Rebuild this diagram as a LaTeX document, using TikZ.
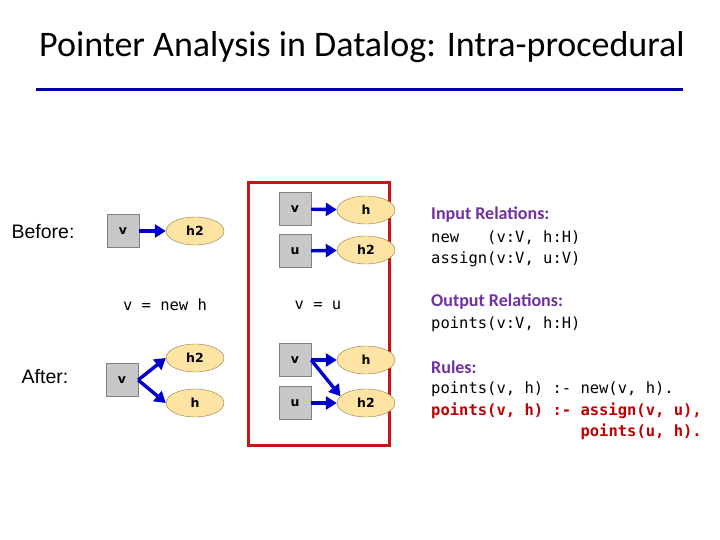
\documentclass[tikz,border=0pt]{standalone}
\usepackage{fontspec}
\setmainfont{Carlito}
\setsansfont{DejaVu Sans}
\setmonofont{DejaVu Sans Mono}
\newfontfamily\sidefont{Liberation Sans}
\usetikzlibrary{arrows.meta,shapes.geometric}
\definecolor{ptBlue}{RGB}{0,0,204}
\definecolor{ptRule}{RGB}{0,0,170}
\definecolor{ptRed}{RGB}{204,20,20}
\definecolor{ptPurple}{RGB}{112,48,160}
\definecolor{ptDarkRed}{RGB}{192,0,0}
\definecolor{varGray}{RGB}{200,200,200}
\definecolor{varEdge}{RGB}{128,128,128}
\definecolor{heapFill}{RGB}{253,228,163}
\definecolor{heapEdge}{RGB}{140,120,70}

\begin{document}
\begin{tikzpicture}[x=1pt,y=-1pt,
  var/.style={draw=varEdge, fill=varGray, minimum width=32pt, minimum height=33pt, inner sep=0pt, font=\sffamily\bfseries\fontsize{12.5}{14}\selectfont},
  heap/.style={ellipse, draw=heapEdge, fill=heapFill, minimum width=58pt, minimum height=28pt, inner sep=0pt, font=\sffamily\bfseries\fontsize{12.5}{14}\selectfont},
  ptsto/.style={ptBlue, line width=3.4pt, -{Triangle[length=11pt,width=13pt]}},
  code/.style={anchor=base west, inner sep=0pt, font=\ttfamily\fontsize{15.5}{20}\selectfont},
  head/.style={anchor=base west, inner sep=0pt, text=ptPurple, font=\bfseries\fontsize{18}{22}\selectfont},
  side/.style={font=\sidefont\fontsize{19.5}{22}\selectfont}]
\useasboundingbox (0,0) rectangle (720,540);
% title and rule
\node[font=\fontsize{36}{40}\selectfont] (title) at (362,47) {Pointer Analysis in Datalog: Intra-procedural};
\draw[ptRule, line width=3pt] (36,90) -- (683,90);
% new h
\node[side] (before) at (43,232) {Before:};
\node[side] (after) at (45,377) {After:};
\node[var] (bv) at (123,231) {v};
\node[heap] (bh2) at (195,231) {h2};
\draw[ptsto] (bv) -- (bh2);
\node[code, anchor=center] (stnew) at (165,305) {v = new h};
\node[var] (av) at (122,380) {v};
\node[heap] (ah2) at (195,358) {h2};
\node[heap] (ah) at (195,403) {h};
\draw[ptsto] (av.east) -- (ah2.west);
\draw[ptsto] (av.east) -- (ah.west);
% v = u
\draw[ptRed, line width=3pt] (248,183) rectangle (389,445);
\node[var] (tv) at (295,209) {v};
\node[heap] (th) at (366,210) {h};
\node[var] (tu) at (295,251) {u};
\node[heap] (th2) at (366,250) {h2};
\draw[ptsto] (tv) -- (th);
\draw[ptsto] (tu) -- (th2);
\node[code, anchor=center] (stcopy) at (318,305) {v = u};
\node[var] (lv) at (295,360) {v};
\node[heap] (lh) at (366,360) {h};
\node[var] (lu) at (295,403) {u};
\node[heap] (lh2) at (366,403) {h2};
\draw[ptsto] (lv) -- (lh);
\draw[ptsto] (lu) -- (lh2);
\draw[ptsto] (lv.east) -- (lh2.165);
% relations and rules
\node[head] (inhead) at (431,219) {Input Relations:};
\node[code] (innew) at (431,243) {new\ \ \ (v:V, h:H)};
\node[code] (inassign) at (431,263) {assign(v:V, u:V)};
\node[head] (outhead) at (431,306) {Output Relations:};
\node[code] (outpts) at (431,328) {points(v:V, h:H)};
\node[head] (rulehead) at (431,373) {Rules:};
\node[code] (rulenew) at (431,393) {points(v, h) :- new(v, h).};
\node[code, text=ptDarkRed, font=\ttfamily\bfseries\fontsize{15.5}{20}\selectfont] (ruleassign) at (431,415) {points(v, h) :- assign(v, u),};
\node[code, text=ptDarkRed, font=\ttfamily\bfseries\fontsize{15.5}{20}\selectfont] (rulepts) at (431,436) {\hphantom{points(v, h) :- }points(u, h).};
\end{tikzpicture}
\end{document}
